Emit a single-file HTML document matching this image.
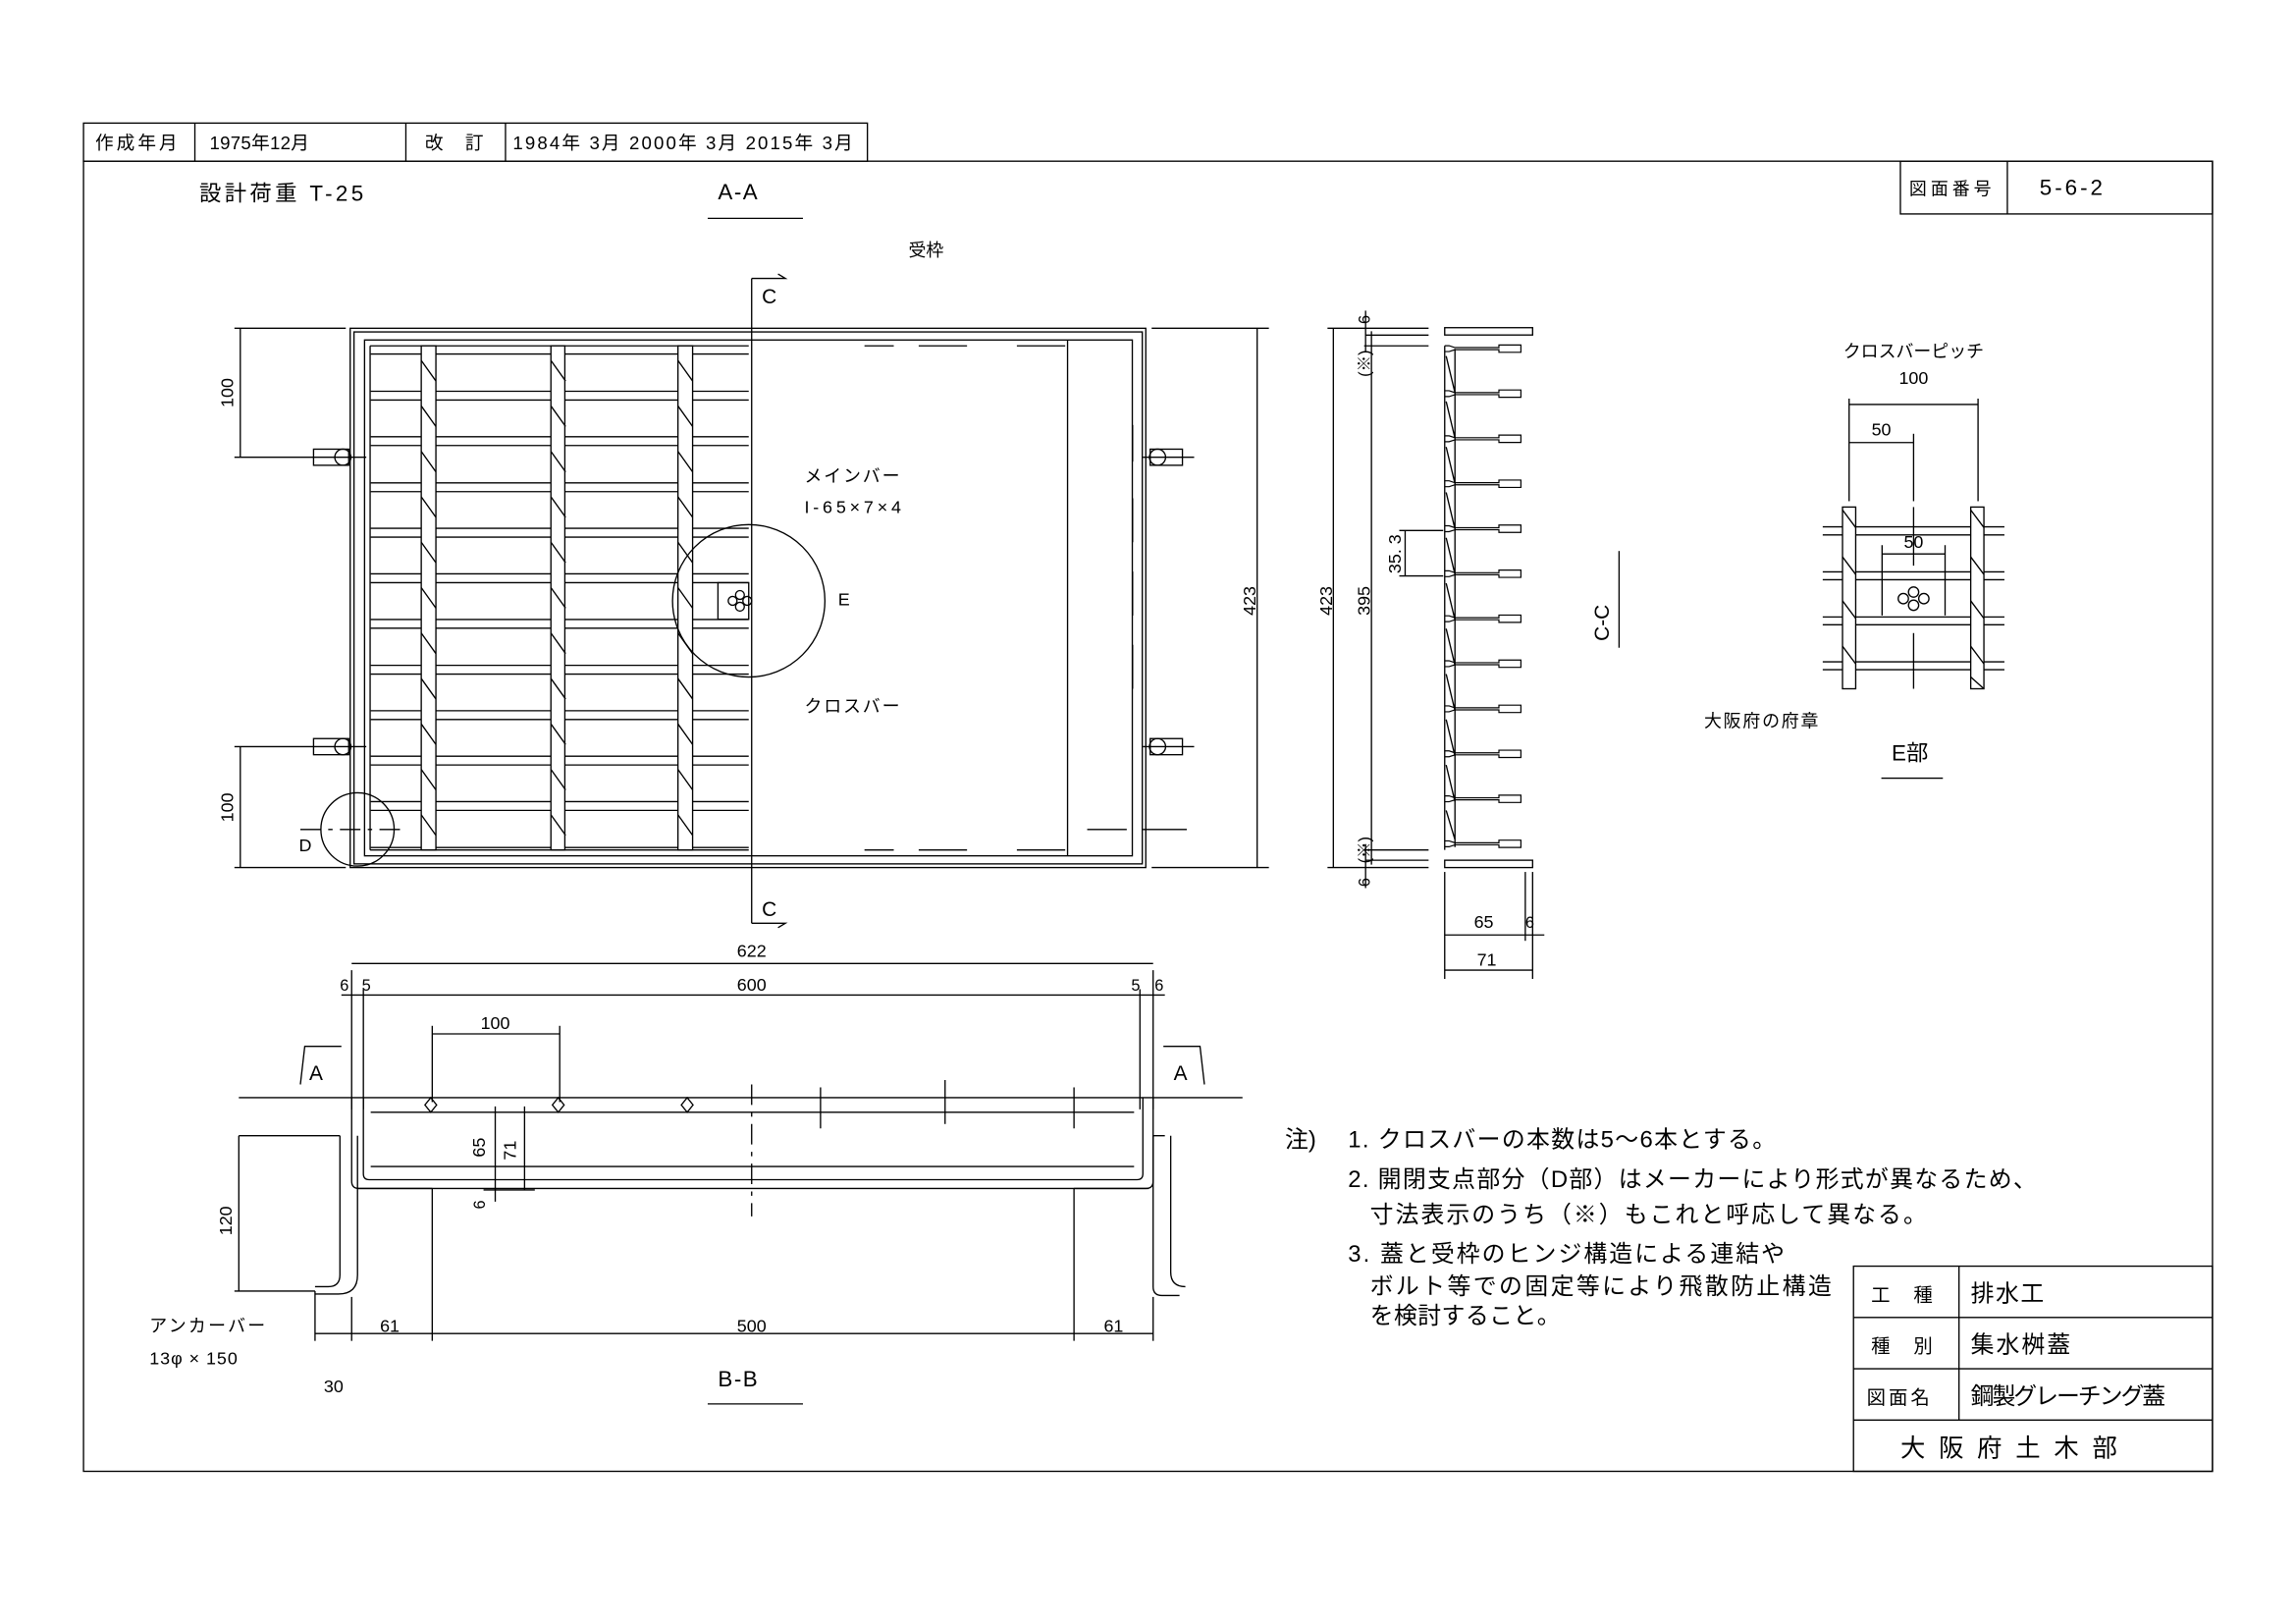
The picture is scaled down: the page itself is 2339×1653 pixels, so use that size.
<!DOCTYPE html>
<html><head><meta charset="utf-8"><style>
html,body{margin:0;padding:0;background:#fff;}
svg{display:block;}
text{font-family:"Liberation Sans","Noto Sans CJK JP",sans-serif;fill:#000;}
</style></head><body>
<svg width="2339" height="1653" viewBox="0 0 1567 1107.5" preserveAspectRatio="none" xmlns="http://www.w3.org/2000/svg">
<defs>
<g id="mb" fill="none" stroke="#000" stroke-width="0.8">
<path d="M986 -2.5 h3 l4 1.3 h30 v-1.8 h15 v5 h-15 v-1.8 h-30 l-4 1.3 h-3"/>
</g>
</defs>
<g stroke="#000" stroke-width="0.9" fill="none">
<!-- header -->
<rect x="57" y="84" width="535" height="26"/>
<line x1="133" y1="84" x2="133" y2="110"/><line x1="277" y1="84" x2="277" y2="110"/><line x1="345" y1="84" x2="345" y2="110"/>
<!-- frame -->
<rect x="57" y="110" width="1453" height="894"/>
<rect x="1297" y="110" width="213" height="36"/><line x1="1370" y1="110" x2="1370" y2="146"/>
<!-- title block -->
<rect x="1265" y="864" width="245" height="140"/>
<line x1="1265" y1="899" x2="1510" y2="899"/><line x1="1265" y1="934" x2="1510" y2="934"/><line x1="1265" y1="969" x2="1510" y2="969"/>
<line x1="1337" y1="864" x2="1337" y2="969"/>
<line x1="483" y1="149" x2="548" y2="149"/>
<line x1="483" y1="958" x2="548" y2="958"/>
<line x1="1284" y1="531" x2="1326" y2="531"/>
<line x1="1105" y1="376" x2="1105" y2="442"/>

<!-- PLAN A-A -->
<rect x="239" y="224" width="543" height="368"/>
<rect x="241.6" y="226.5" width="538" height="363"/>
<rect x="248.8" y="232" width="524" height="352"/>
<line x1="252.6" y1="236" x2="252.6" y2="580"/>
<line x1="252.6" y1="236" x2="511" y2="236"/>
<line x1="252.6" y1="580" x2="511" y2="580"/>
<line x1="728.6" y1="232" x2="728.6" y2="584"/>
<line x1="513" y1="190" x2="513" y2="630"/>
<path d="M513 190 h23 l-5 -3 M513 630 h23 l-5 3"/>
<g>
<line x1="253" y1="241.6" x2="511" y2="241.6"/>
<line x1="253" y1="267" x2="511" y2="267"/><line x1="253" y1="273" x2="511" y2="273"/>
<line x1="253" y1="298" x2="511" y2="298"/><line x1="253" y1="304" x2="511" y2="304"/>
<line x1="253" y1="329.5" x2="511" y2="329.5"/><line x1="253" y1="335.5" x2="511" y2="335.5"/>
<line x1="253" y1="360.5" x2="511" y2="360.5"/><line x1="253" y1="366.5" x2="511" y2="366.5"/>
<line x1="253" y1="391.6" x2="511" y2="391.6"/><line x1="253" y1="397.6" x2="511" y2="397.6"/>
<line x1="253" y1="422.7" x2="511" y2="422.7"/><line x1="253" y1="428.7" x2="511" y2="428.7"/>
<line x1="253" y1="454" x2="511" y2="454"/><line x1="253" y1="460" x2="511" y2="460"/>
<line x1="253" y1="485" x2="511" y2="485"/><line x1="253" y1="491" x2="511" y2="491"/>
<line x1="253" y1="516" x2="511" y2="516"/><line x1="253" y1="522" x2="511" y2="522"/>
<line x1="253" y1="547" x2="511" y2="547"/><line x1="253" y1="553" x2="511" y2="553"/>
<line x1="253" y1="578.3" x2="511" y2="578.3"/>
</g>
<rect x="287.5" y="236" width="10" height="344" fill="#fff"/>
<rect x="376" y="236" width="9.5" height="344" fill="#fff"/>
<rect x="462.7" y="236" width="10" height="344" fill="#fff"/>
<path id="h1" d="M287.5 246 l10 14 M287.5 277 l10 14 M287.5 308 l10 14 M287.5 339 l10 14 M287.5 370 l10 14 M287.5 401 l10 14 M287.5 432 l10 14 M287.5 463 l10 14 M287.5 494 l10 14 M287.5 525 l10 14 M287.5 556 l10 14"/>
<use href="#h1" x="88.5"/><use href="#h1" x="175.2"/>
<rect x="490" y="397.6" width="21" height="25"/>
<circle cx="505" cy="406" r="3"/><circle cx="505" cy="414" r="3"/><circle cx="500" cy="410" r="3"/><circle cx="510" cy="410" r="3"/>
<circle cx="511" cy="410" r="52"/>
<circle cx="244" cy="566" r="25"/>
<line x1="205" y1="566" x2="276" y2="566" stroke-dasharray="14 5 3 5"/>
<path d="M590 236 h20 M627 236 h33 M694 236 h33 M590 580 h20 M627 580 h33 M694 580 h33 M742 566 h27 M780 566 h30" />
<path d="M773 340 v30 M773 390 v30 M773 440 v30 M773 290 v25" />
<rect x="214" y="306.5" width="24" height="11"/><circle cx="234" cy="312" r="5.5"/>
<rect x="214" y="504" width="24" height="11"/><circle cx="234" cy="509.5" r="5.5"/>
<rect x="785" y="306.5" width="22" height="11"/><circle cx="790" cy="312" r="5.5"/>
<rect x="785" y="504" width="22" height="11"/><circle cx="790" cy="509.5" r="5.5"/>
<line x1="205" y1="312" x2="250" y2="312"/><line x1="205" y1="509.5" x2="250" y2="509.5"/>
<line x1="780" y1="312" x2="815" y2="312"/><line x1="780" y1="509.5" x2="815" y2="509.5"/>
<line x1="164" y1="224" x2="164" y2="312"/><line x1="160" y1="224" x2="236" y2="224"/><line x1="160" y1="312" x2="205" y2="312"/>
<line x1="164" y1="509.5" x2="164" y2="592"/><line x1="160" y1="509.5" x2="205" y2="509.5"/><line x1="160" y1="592" x2="236" y2="592"/>
<line x1="858" y1="224" x2="858" y2="592"/><line x1="786" y1="224" x2="866" y2="224"/><line x1="786" y1="592" x2="866" y2="592"/>

<!-- C-C section -->
<line x1="910" y1="224" x2="910" y2="592"/><line x1="906" y1="224" x2="975" y2="224"/><line x1="906" y1="592" x2="975" y2="592"/>
<line x1="936" y1="226" x2="936" y2="590"/><line x1="932" y1="228.7" x2="975" y2="228.7"/><line x1="932" y1="587" x2="975" y2="587"/>
<line x1="931" y1="236" x2="975" y2="236"/><line x1="931" y1="580" x2="975" y2="580"/>
<line x1="932" y1="212" x2="932" y2="240"/><line x1="932" y1="576" x2="932" y2="606"/>
<line x1="959" y1="362" x2="959" y2="393"/><line x1="955" y1="362" x2="985" y2="362"/><line x1="955" y1="393" x2="985" y2="393"/>
<rect x="986" y="223.6" width="60" height="5"/>
<rect x="986" y="587" width="60" height="5"/>
<line x1="986" y1="236" x2="986" y2="580"/><line x1="993" y1="238" x2="993" y2="578"/>
<path d="M987 243 l6 25 M987 274 l6 25 M987 305 l6 25 M987 336 l6 25 M987 367 l6 25 M987 398 l6 25 M987 429 l6 25 M987 460 l6 25 M987 491 l6 25 M987 522 l6 25 M987 553 l6 20"/>
</g>
<use href="#mb" y="238.4"/><use href="#mb" y="269.1"/><use href="#mb" y="299.9"/><use href="#mb" y="330.6"/><use href="#mb" y="361.3"/><use href="#mb" y="392"/><use href="#mb" y="422.7"/><use href="#mb" y="453.4"/><use href="#mb" y="484.2"/><use href="#mb" y="514.9"/><use href="#mb" y="545.6"/><use href="#mb" y="576.3"/>
<g stroke="#000" stroke-width="0.9" fill="none">
<line x1="986" y1="595" x2="986" y2="668"/><line x1="1041" y1="595" x2="1041" y2="642"/><line x1="1046" y1="595" x2="1046" y2="668"/>
<line x1="986" y1="638" x2="1054" y2="638"/><line x1="986" y1="662" x2="1046" y2="662"/>

<!-- E detail -->
<line x1="1262" y1="272" x2="1262" y2="342"/><line x1="1306" y1="296" x2="1306" y2="342"/><line x1="1350" y1="272" x2="1350" y2="342"/>
<line x1="1262" y1="276" x2="1350" y2="276"/><line x1="1262" y1="302" x2="1306" y2="302"/>
<path d="M1244 359.5 H1368 M1244 365 H1368 M1244 390.2 H1368 M1244 395.6 H1368 M1244 421 H1368 M1244 426.3 H1368 M1244 451.6 H1368 M1244 457 H1368"/>
<rect x="1257.5" y="346" width="9" height="124" fill="#fff"/>
<rect x="1345" y="346" width="9" height="124" fill="#fff"/>
<path d="M1257.5 348 l9 12 M1257.5 380 l9 12 M1257.5 410 l9 12 M1257.5 441 l9 12 M1345 348 l9 12 M1345 380 l9 12 M1345 410 l9 12 M1345 441 l9 12 M1345 462 l9 8"/>
<line x1="1306" y1="346" x2="1306" y2="386"/><line x1="1306" y1="432" x2="1306" y2="470"/>
<line x1="1284.5" y1="378" x2="1327.5" y2="378"/>
<line x1="1284.5" y1="372" x2="1284.5" y2="420"/><line x1="1327.5" y1="372" x2="1327.5" y2="420"/>
<circle cx="1306" cy="404" r="3.5"/><circle cx="1306" cy="413" r="3.5"/><circle cx="1299" cy="408.5" r="3.5"/><circle cx="1313" cy="408.5" r="3.5"/>

<!-- B-B section -->
<line x1="240" y1="657.5" x2="787" y2="657.5"/>
<line x1="233" y1="679" x2="795" y2="679"/>
<line x1="240" y1="662" x2="240" y2="757"/><line x1="248" y1="675" x2="248" y2="757"/>
<line x1="778" y1="675" x2="778" y2="757"/><line x1="787" y1="662" x2="787" y2="757"/>
<line x1="295" y1="700" x2="295" y2="752"/><line x1="382" y1="700" x2="382" y2="752"/>
<line x1="295" y1="705.5" x2="382" y2="705.5"/>
<path d="M205 740 l3 -26 h25 M822 740 l-3 -26 h-25"/>
<line x1="163" y1="749" x2="848" y2="749"/>
<path d="M294 749 l4 5 l-4 5 l-4 -5 z M381 749 l4 5 l-4 5 l-4 -5 z M469 749 l4 5 l-4 5 l-4 -5 z"/>
<path d="M248 749 V801 q0 4 4 4 H776 q4 0 4 -4 V749"/>
<path d="M240 749 V806 q0 5 5 5 H782 q5 0 5 -5 V749"/>
<line x1="253" y1="759" x2="774" y2="759"/><line x1="253" y1="796" x2="774" y2="796"/>
<line x1="513" y1="740" x2="513" y2="830" stroke-dasharray="14 5 3 5"/>
<line x1="560" y1="742" x2="560" y2="770"/><line x1="645" y1="737" x2="645" y2="767"/><line x1="733" y1="742" x2="733" y2="770"/>
<line x1="338" y1="755" x2="338" y2="820"/><line x1="358" y1="755" x2="358" y2="812"/>
<line x1="330" y1="812" x2="365" y2="812"/>
<path d="M163 775 H232 M232 775 V870 q0 8 -8 8 H215 M244 775 V870 q0 13 -13 13 H215"/>
<path d="M244 811 H295 M733 811 H784"/>
<path d="M795 775 H787 V878 q0 6 6 6 H805 M799 775 V868 q0 10 10 10"/>
<line x1="163" y1="775" x2="163" y2="881"/><line x1="160" y1="881" x2="215" y2="881"/>
<line x1="215" y1="881" x2="215" y2="915"/><line x1="295" y1="811" x2="295" y2="915"/><line x1="733" y1="811" x2="733" y2="915"/><line x1="787" y1="885" x2="787" y2="915"/>
<line x1="240" y1="885" x2="240" y2="915"/>
<line x1="215" y1="910" x2="787" y2="910"/>
</g>

<g font-size="12.5">
<text x="65" y="102" textLength="56">作成年月</text>
<text x="143" y="102" textLength="68">1975年12月</text>
<text x="290" y="102" textLength="40">改　訂</text>
<text x="350" y="102" textLength="232">1984年 3月 2000年 3月  2015年 3月</text>
<text x="1303" y="133" font-size="12" textLength="56">図面番号</text>
<text x="1392" y="133" font-size="15" textLength="43">5-6-2</text>
<text x="136" y="137" font-size="15" textLength="112">設計荷重 T-25</text>
<text x="490" y="136" font-size="15" textLength="27">A-A</text>
<text x="620" y="175" font-size="12">受枠</text>
<text x="520" y="207" font-size="14">C</text>
<text x="520" y="625" font-size="14">C</text>
<text x="549" y="329" font-size="12" textLength="65">メインバー</text>
<text x="549" y="350" font-size="12" textLength="66">I-65×7×4</text>
<text x="572" y="413" font-size="12">E</text>
<text x="549" y="486" font-size="12" textLength="65">クロスバー</text>
<text x="204" y="581" font-size="12">D</text>
<text transform="translate(159 268) rotate(-90)" text-anchor="middle" font-size="12">100</text>
<text transform="translate(159 551) rotate(-90)" text-anchor="middle" font-size="12">100</text>
<text transform="translate(857 410) rotate(-90)" text-anchor="middle" font-size="12">423</text>
<text transform="translate(909 410) rotate(-90)" text-anchor="middle" font-size="12">423</text>
<text transform="translate(935 410) rotate(-90)" text-anchor="middle" font-size="12">395</text>
<text transform="translate(956 378) rotate(-90)" text-anchor="middle" font-size="12">35. 3</text>
<text transform="translate(935 218) rotate(-90)" text-anchor="middle" font-size="11">6</text>
<text transform="translate(935 602) rotate(-90)" text-anchor="middle" font-size="11">6</text>
<text transform="translate(935 248) rotate(-90)" text-anchor="middle" font-size="11">(※)</text>
<text transform="translate(935 580) rotate(-90)" text-anchor="middle" font-size="11">(※)</text>
<text transform="translate(1098 425) rotate(-90)" text-anchor="middle" font-size="14">C-C</text>
<text x="1006" y="633" font-size="12">65</text>
<text x="1041" y="633" font-size="11">6</text>
<text x="1008" y="659" font-size="12">71</text>
<text x="1306" y="244" font-size="12" text-anchor="middle">クロスバーピッチ</text>
<text x="1306" y="262" font-size="12" text-anchor="middle">100</text>
<text x="1284" y="297" font-size="12" text-anchor="middle">50</text>
<text x="1306" y="374" font-size="12" text-anchor="middle">50</text>
<text x="1163" y="496" font-size="12" textLength="78">大阪府の府章</text>
<text x="1291" y="519" font-size="15">E部</text>
<text x="513" y="653" font-size="12" text-anchor="middle">622</text>
<text x="513" y="676" font-size="12" text-anchor="middle">600</text>
<text x="232" y="676" font-size="11">6</text><text x="247" y="676" font-size="11">5</text>
<text x="772" y="676" font-size="11">5</text><text x="788" y="676" font-size="11">6</text>
<text x="338" y="702" font-size="12" text-anchor="middle">100</text>
<text x="211" y="737" font-size="14">A</text>
<text x="801" y="737" font-size="14">A</text>
<text transform="translate(331 783) rotate(-90)" text-anchor="middle" font-size="12">65</text>
<text transform="translate(352 785) rotate(-90)" text-anchor="middle" font-size="12">71</text>
<text transform="translate(331 822) rotate(-90)" text-anchor="middle" font-size="11">6</text>
<text transform="translate(158 833) rotate(-90)" text-anchor="middle" font-size="12">120</text>
<text x="266" y="909" font-size="12" text-anchor="middle">61</text>
<text x="513" y="909" font-size="12" text-anchor="middle">500</text>
<text x="760" y="909" font-size="12" text-anchor="middle">61</text>
<text x="102" y="909" font-size="12" textLength="79">アンカーバー</text>
<text x="102" y="931" font-size="12" textLength="60">13φ × 150</text>
<text x="221" y="950" font-size="12">30</text>
<text x="490" y="946" font-size="15" textLength="27">B-B</text>
<text x="877" y="783" font-size="16">注)</text>
<text x="920" y="783" font-size="16" textLength="292">1. クロスバーの本数は5～6本とする。</text>
<text x="920" y="810" font-size="16" textLength="470">2. 開閉支点部分（D部）はメーカーにより形式が異なるため、</text>
<text x="935" y="834" font-size="16" textLength="380">寸法表示のうち（※）もこれと呼応して異なる。</text>
<text x="920" y="861" font-size="16" textLength="298">3. 蓋と受枠のヒンジ構造による連結や</text>
<text x="935" y="883" font-size="16" textLength="315">ボルト等での固定等により飛散防止構造</text>
<text x="935" y="903" font-size="16" textLength="130">を検討すること。</text>
<text x="1277" y="888" font-size="13" textLength="42">工　種</text>
<text x="1345" y="888" font-size="16" textLength="50">排水工</text>
<text x="1277" y="923" font-size="13" textLength="42">種　別</text>
<text x="1345" y="923" font-size="16" textLength="68">集水桝蓋</text>
<text x="1274" y="958" font-size="13" textLength="43">図面名</text>
<text x="1345" y="958" font-size="16" textLength="133">鋼製グレーチング蓋</text>
<text x="1297" y="994" font-size="17" textLength="148">大 阪 府 土 木 部</text>
</g>
</svg>
</body></html>
